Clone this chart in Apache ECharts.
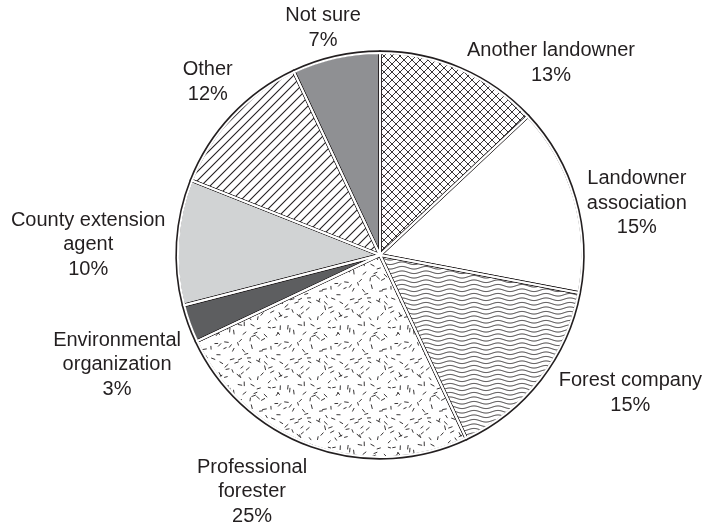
<!DOCTYPE html>
<html>
<head>
<meta charset="utf-8">
<script src="https://cdn.jsdelivr.net/npm/echarts@6/dist/echarts.min.js"></script>
<style>
  html, body { margin: 0; padding: 0; background: #fff; }
  #chart { width: 708px; height: 526px; }
</style>
</head>
<body>
<div id="chart"></div>
<script>
// slices, clockwise from 12 o'clock
const categories = [
  'Another landowner',
  'Landowner\nassociation',
  'Forest company',
  'Professional\nforester',
  'Environmental\norganization',
  'County extension\nagent',
  'Other',
  'Not sure'
];
const shares = [13, 15, 15, 25, 3, 10, 12, 7];

// where each label sits: angle (deg, clockwise from top) and distance from pie centre
const labelAngle = [41.7, 78.6, 118.9, 208.4, 247.3, 272, 315.1, 345.9];
const labelDist = [257, 262, 286, 269, 285, 292, 244, 234];

const CENTER = [380, 255];
const R = 203;
const INK = '#231f20';

// --- fill patterns ---
function tile(w, h, draw) {
  const c = document.createElement('canvas');
  c.width = w; c.height = h;
  const ctx = c.getContext('2d');
  ctx.fillStyle = '#fff';
  ctx.fillRect(0, 0, w, h);
  ctx.strokeStyle = INK;
  draw(ctx, w, h);
  return { image: c, repeat: 'repeat' };
}

const crossHatch = tile(8, 8, (ctx, w, h) => {
  ctx.lineWidth = 0.9;
  ctx.beginPath();
  ctx.moveTo(-1, -1); ctx.lineTo(w + 1, h + 1);
  ctx.moveTo(-1, h + 1); ctx.lineTo(w + 1, -1);
  ctx.stroke();
});

const diagonal = tile(9, 9, (ctx, w, h) => {
  ctx.lineWidth = 1.1;
  ctx.beginPath();
  for (let k = 0; k <= 2; k++) {
    ctx.moveTo(-2, k * w + 2); ctx.lineTo(k * w + 2, -2);
  }
  ctx.stroke();
});

// two wavy lines per tile -> 4.5px pitch
const waves = tile(24, 9, (ctx, w, h) => {
  ctx.lineWidth = 0.9;
  ctx.beginPath();
  for (const y0 of [2.25, 6.75]) {
    for (let x = -1; x <= w + 1; x += 0.5) {
      const y = y0 + 1.3 * Math.sin(2 * Math.PI * x / w);
      if (x === -1) ctx.moveTo(x, y); else ctx.lineTo(x, y);
    }
  }
  ctx.stroke();
});

const stipple = tile(60, 60, (ctx, w, h) => {
  let s = 123456789;
  const rnd = () => {
    s |= 0; s = s + 0x6D2B79F5 | 0;
    let t = Math.imul(s ^ s >>> 15, 1 | s);
    t = t + Math.imul(t ^ t >>> 7, 61 | t) ^ t;
    return ((t ^ t >>> 14) >>> 0) / 4294967296;
  };
  ctx.lineWidth = 0.9;
  ctx.beginPath();
  // jittered grid so the dashes spread evenly
  const step = 7.5;
  for (let gx = 0; gx < w; gx += step) {
    for (let gy = 0; gy < h; gy += step) {
      const x = gx + rnd() * step, y = gy + rnd() * step;
      const a = rnd() * Math.PI, l = 1.6 + rnd() * 0.8;
      const dx = Math.cos(a) * l, dy = Math.sin(a) * l;
      for (const ox of [-w, 0, w]) for (const oy of [-h, 0, h]) {
        ctx.moveTo(x + ox - dx, y + oy - dy);
        ctx.lineTo(x + ox + dx, y + oy + dy);
      }
    }
  }
  ctx.stroke();
});

const fills = [crossHatch, '#ffffff', waves, stipple, '#5d5e60', '#d1d3d4', diagonal, '#8f9093'];

const base = {
  type: 'pie',
  center: CENTER,
  startAngle: 90,
  clockwise: true,
  avoidLabelOverlap: false,
  silent: true,
  animation: false,
  emphasis: { disabled: true },
  labelLine: { show: false }
};

const chart = echarts.init(document.getElementById('chart'), null, { renderer: 'canvas' });
chart.setOption({
  backgroundColor: '#fff',
  series: [
    {
      ...base,
      radius: R,
      data: categories.map((name, i) => ({ name, value: shares[i], itemStyle: { color: fills[i] } })),
      label: {
        show: true,
        position: 'outside',
        formatter: p => p.name + '\n' + p.value + '%',
        color: INK,
        fontFamily: '"Liberation Sans", Arial, sans-serif',
        fontSize: 20,
        lineHeight: 24.5,
        width: 220,
        overflow: 'none'
      },
      labelLayout: p => {
        const a = labelAngle[p.dataIndex] * Math.PI / 180;
        const d = labelDist[p.dataIndex];
        return {
          x: CENTER[0] + d * Math.sin(a),
          y: CENTER[1] - d * Math.cos(a),
          align: 'center',
          verticalAlign: 'middle'
        };
      }
    },
    {
      ...base,
      radius: R,
      data: categories.map((name, i) => ({ name, value: shares[i] })),
      itemStyle: { color: 'rgba(0,0,0,0)', borderColor: INK, borderWidth: 3.4 },
      label: { show: false }
    },
    {
      ...base,
      radius: R - 0.9,
      data: categories.map((name, i) => ({ name, value: shares[i] })),
      itemStyle: { color: 'rgba(0,0,0,0)', borderColor: '#fff', borderWidth: 2 },
      label: { show: false }
    }
  ]
});
</script>
</body>
</html>
